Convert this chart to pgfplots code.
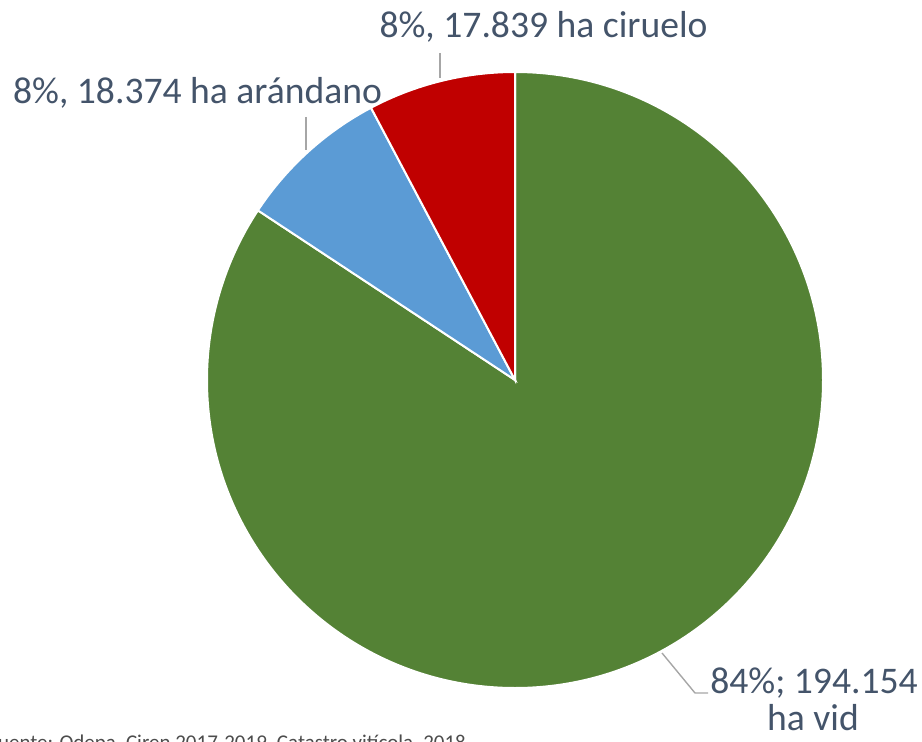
\documentclass[border=0pt]{standalone}
\usepackage{fontspec}
\setmainfont{Carlito}
\usepackage{pgfplots}
\pgfplotsset{compat=1.18}
\usepackage{pgfplotstable}

\definecolor{cvid}{HTML}{548235}
\definecolor{carandano}{HTML}{5B9BD5}
\definecolor{cciruelo}{HTML}{C00000}
\definecolor{labeltext}{HTML}{44546A}
\definecolor{leader}{HTML}{A6A6A6}

% superficie en miles de ha
\pgfplotstableread{
name      value
vid       194.154
arandano  18.374
ciruelo   17.839
}\piedata

\begin{document}
\begin{tikzpicture}
\useasboundingbox (0,0) rectangle (461pt,370.5pt);
\begin{axis}[
  at={(0,0)}, anchor=south west,
  scale only axis,
  width=461pt, height=370.5pt,
  xmin=0, xmax=922, ymin=0, ymax=741,
  hide axis, clip=false
]
\pgfplotstablegetelem{0}{value}\of\piedata \let\va\pgfplotsretval
\pgfplotstablegetelem{1}{value}\of\piedata \let\vb\pgfplotsretval
\pgfplotstablegetelem{2}{value}\of\piedata \let\vc\pgfplotsretval
\pgfmathsetmacro\tot{\va+\vb+\vc}
\pgfmathsetmacro\aA{90-360*(\va/\tot)}
\pgfmathsetmacro\aB{\aA-360*(\vb/\tot)}

\fill[cvid, draw=white, line width=1pt] (axis cs:515,361) -- +(90:154pt)
  arc[start angle=90, end angle=\aA, radius=154pt] -- cycle;
\fill[carandano, draw=white, line width=1pt] (axis cs:515,361) -- +(\aA:154pt)
  arc[start angle=\aA, end angle=\aB, radius=154pt] -- cycle;
\fill[cciruelo, draw=white, line width=1pt] (axis cs:515,361) -- +(\aB:154pt)
  arc[start angle=\aB, end angle=-270, radius=154pt] -- cycle;

% leader lines
\draw[leader, line width=0.7pt] (axis cs:440,688) -- (axis cs:440,663);
\draw[leader, line width=0.7pt] (axis cs:306,624) -- (axis cs:306,591);
\draw[leader, line width=0.7pt] (axis cs:662,88) -- (axis cs:695,48) -- (axis cs:708,48);

% labels
\begin{scope}[every node/.style={text=labeltext, font=\fontsize{18.8}{22}\selectfont, inner sep=0pt}]
\node[anchor=base] at (axis cs:543.5,703) {8\%, 17.839 ha ciruelo};
\node[anchor=base] at (axis cs:197.5,638) {8\%, 18.374 ha arándano};
\node[anchor=base] at (axis cs:814,48) {84\%; 194.154};
\node[anchor=base] at (axis cs:813,11) {ha vid};
\end{scope}

\node[anchor=base west, inner sep=0pt, text=black!70, font=\fontsize{10.5}{12}\selectfont]
  at (axis cs:-12,-8) {Fuente: Odepa, Ciren 2017-2019, Catastro vitícola, 2018};
\end{axis}
\end{tikzpicture}
\end{document}
